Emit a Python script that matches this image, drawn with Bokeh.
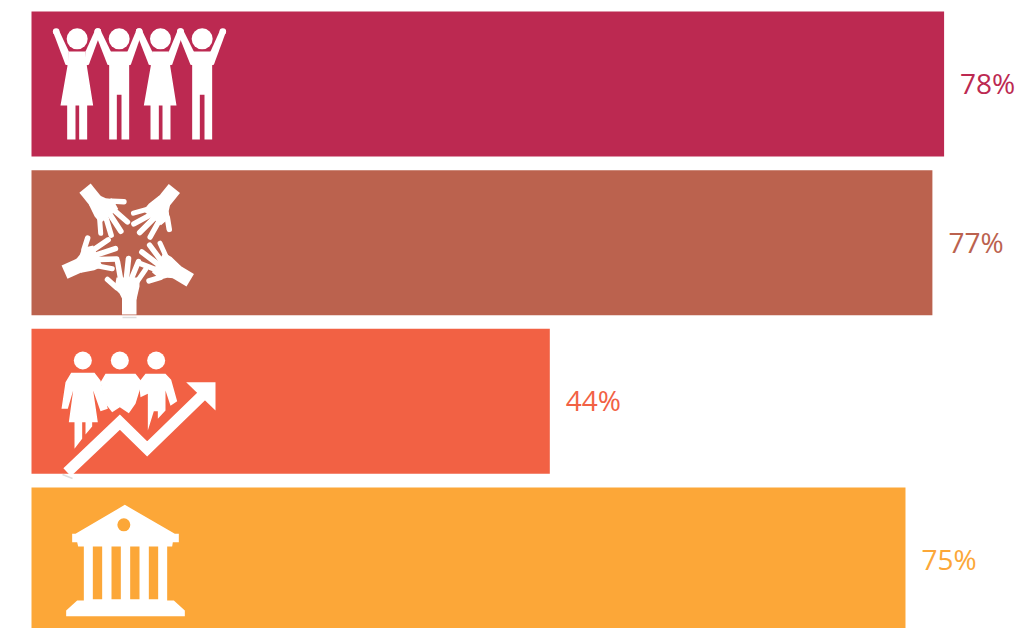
import math
from bokeh.core.properties import value
from bokeh.embed import file_html
from bokeh.models import Range1d
from bokeh.plotting import figure
from bokeh.resources import INLINE

rows = [0, 1, 2, 3]
shares = [78.0, 77.0, 44.3, 74.7]
labels = ["78%", "77%", "44%", "75%"]
colors = ["#BC2951", "#BB624E", "#F26144", "#FCA738"]

W, H = 1030, 628
PX_PER_PCT = 11.7
PX_PER_ROW = 158.67
p = figure(width=W, height=H, output_backend="svg", toolbar_location=None,
           x_axis_location=None, y_axis_location=None, min_border=0,
           x_range=Range1d(-31 / PX_PER_PCT, (W - 31) / PX_PER_PCT),
           y_range=Range1d((H - 83.5) / PX_PER_ROW, -83.5 / PX_PER_ROW))
p.grid.visible = False
p.outline_line_color = None
p.background_fill_color = "white"

p.hbar(y=rows, left=0, right=shares, height=145 / PX_PER_ROW, color=colors, line_color=None)
p.text(x=shares, y=rows, text=labels, text_color=colors, x_offset=16, y_offset=-1,
       text_font=value("Open Sans"), text_font_size="28px",
       text_align="left", text_baseline="middle")

# pictograms live in a page-pixel coordinate system
p.extra_x_ranges["px"] = Range1d(0, W)
p.extra_y_ranges["px"] = Range1d(H, 0)
PX = dict(x_range_name="px", y_range_name="px")


def poly(points, color="white"):
    p.patch([a for a, _ in points], [b for _, b in points], fill_color=color, line_color=None, **PX)


def stroke(points, width, color="white", cap="round", join="round"):
    p.line([a for a, _ in points], [b for _, b in points], line_width=width, line_color=color,
           line_cap=cap, line_join=join, **PX)


def dot(x, y, r, color="white"):
    p.scatter([x], [y], size=2 * r, fill_color=color, line_color=None, **PX)


def zoomed(ox, oy):
    return lambda pts: [(ox + a / 3, oy + b / 3) for a, b in pts]


# --- people with raised arms
z = zoomed(40, 15)
TIPS = [47, 172, 296, 420, 547]
for i, (hx, woman) in enumerate([(110, True), (236, False), (360, True), (485, False)]):
    a = z([(hx, 70)])[0]
    dot(a[0], a[1], 10.5)
    if woman:
        poly(z([(hx - 25, 108), (hx + 25, 108), (hx + 28, 145), (hx + 48, 270), (hx + 30, 270), (hx + 30, 372),
                (hx + 6, 372), (hx + 6, 270), (hx - 5, 270), (hx - 5, 372), (hx - 30, 372), (hx - 30, 270), (hx - 50, 270),
                (hx - 28, 145)]))
    else:
        poly(z([(hx - 28, 108), (hx + 28, 108), (hx + 30, 145), (hx + 30, 372), (hx + 7, 372), (hx + 7, 238),
                (hx - 7, 238), (hx - 7, 372), (hx - 30, 372), (hx - 30, 145)]))
    tl, tr = TIPS[i], TIPS[i + 1]
    poly(z([(tl - 9, 50), (tl + 9, 46), (hx - 25, 108), (hx - 25, 150), (hx - 35, 148)]))
    poly(z([(tr + 9, 50), (tr - 9, 46), (hx + 25, 108), (hx + 25, 150), (hx + 35, 148)]))
    for t in (tl, tr):
        u = z([(t, 48)])[0]
        dot(u[0], u[1], 3.3)

# --- five hands around a centre
CX, CY = 129, 243
HAND_ANGLES = [0, 66, 141, 219, 301]
FINGERS = [((-11, 2), (-20, -6), 5.5), ((-7, -7), (-10, -24), 5.4), ((-1, -8), (1, -27), 5.6),
           ((4, -7), (11, -24), 5.4), ((9, -3), (18, -16), 5.0)]
PALM = [(-11, -8), (12, -8), (12, 1), (9, 14), (-5, 14), (-8, 8), (-13, 3)]
CUFF = [(-5.5, 12), (9, 12), (9, 29), (-5.5, 29)]
for deg in HAND_ANGLES:
    t = math.radians(deg)

    def rot(pt):
        x, y = pt[0] - 2, pt[1] + 42
        return (CX + x * math.cos(t) - y * math.sin(t), CY + x * math.sin(t) + y * math.cos(t))

    poly([rot(q) for q in PALM])
    poly([rot(q) for q in CUFF])
    for base, tip, w in FINGERS:
        stroke([rot(base), rot(tip)], w)
p.line([122, 136], [317, 317], line_color="#DDDDDD", line_width=1.5, **PX)

# --- three people and a rising arrow
z = zoomed(50, 340)
for hx in (97, 208, 317):
    a = z([(hx, 60)])[0]
    dot(a[0], a[1], 9)
poly(z([(62, 97), (132, 97), (150, 120), (172, 205), (150, 212), (128, 150), (142, 245), (125, 245), (125, 258),
        (105, 282), (105, 245), (95, 245), (95, 295), (72, 325), (72, 245), (55, 245), (68, 150), (52, 205),
        (33, 205), (45, 125)]))
poly(z([(150, 125), (165, 100), (255, 100), (275, 125), (255, 190), (235, 218), (208, 200), (185, 215), (165, 190)]))
poly(z([(265, 125), (285, 100), (345, 100), (362, 118), (380, 182), (360, 196), (345, 150), (345, 210), (322, 235),
        (322, 212), (310, 212), (292, 270), (292, 160), (270, 170)]))
stroke(z([(50, 395), (208, 245), (290, 325), (460, 160)]), 11, cap="butt", join="miter")
poly(z([(407, 125), (495, 125), (495, 210)]))
p.line([62, 72], [474, 478], line_color="#DDDDDD", line_width=1.5, **PX)

# --- bank building
z = zoomed(55, 495)
bank = colors[3]
poly(z([(208, 28), (358, 115), (370, 115), (370, 140), (352, 140), (350, 153), (335, 153), (335, 315), (355, 315),
        (388, 345), (388, 362), (32, 362), (32, 345), (65, 315), (85, 315), (85, 153), (68, 153), (65, 140),
        (50, 140), (50, 115), (60, 115)]))
for left in (112, 168, 224, 280):
    poly(z([(left, 153), (left + 28, 153), (left + 28, 311), (left, 311)]), bank)
a = z([(205, 88)])[0]
dot(a[0], a[1], 6.5, bank)

open("out.html", "w").write(file_html(p, INLINE))
